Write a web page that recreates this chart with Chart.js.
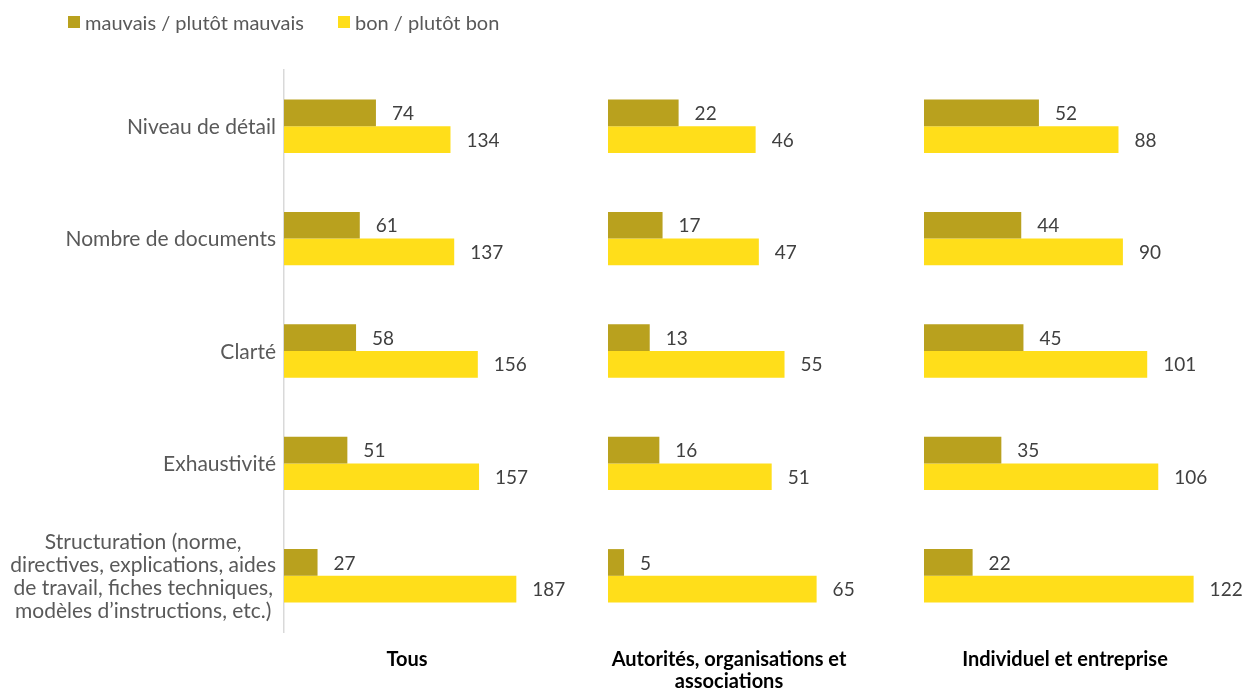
<!DOCTYPE html>
<html><head><meta charset="utf-8">
<script src="https://cdn.jsdelivr.net/npm/chart.js@4.4.0/dist/chart.umd.min.js"></script>
<style>
html,body{margin:0;padding:0;background:#fff;}
#wrap{position:relative;width:1245px;height:693px;}
#legend{position:absolute;left:68px;top:10px;display:flex;font-family:Lato,sans-serif;font-size:20px;color:#595959;line-height:24px;}
.item{display:flex;align-items:center;margin-right:34px;}
.sw{width:12px;height:12px;margin-right:5px;}
canvas{position:absolute;left:0;top:0;}
</style></head><body>
<div id="wrap"><canvas id="c" width="1245" height="693"></canvas><div id="legend"></div></div>
<script>
const categories = [
  ["Niveau de détail"],
  ["Nombre de documents"],
  ["Clarté"],
  ["Exhaustivité"],
  ["Structuration (norme,", "directives, explications, aides", "de travail, fiches techniques,", "modèles d’instructions, etc.)"]
];
const seriesNames = ["mauvais / plutôt mauvais", "bon / plutôt bon"];
const groupTitles = [["Tous", ""], ["Autorités, organisations et", "associations"], ["Individuel et entreprise", ""]];
const badTous = [74, 61, 58, 51, 27];
const goodTous = [134, 137, 156, 157, 187];
const badAutorites = [22, 17, 13, 16, 5];
const goodAutorites = [46, 47, 55, 51, 65];
const badIndividuel = [52, 44, 45, 35, 22];
const goodIndividuel = [88, 90, 101, 106, 122];
const axisMax = [198, 75.4, 127.6];

const colors = ["#B9A11E", "#FFDE1A"];
const FONT = "Lato";

// legend
const lg = document.getElementById('legend');
seriesNames.forEach((n, i) => {
  const d = document.createElement('div'); d.className = 'item';
  const s = document.createElement('div'); s.className = 'sw'; s.style.background = colors[i];
  const t = document.createElement('span'); t.textContent = n;
  d.appendChild(s); d.appendChild(t); lg.appendChild(d);
});

const bads = [badTous, badAutorites, badIndividuel];
const goods = [goodTous, goodAutorites, goodIndividuel];
const datasets = [];
for (let g = 0; g < 3; g++) {
  datasets.push({label: seriesNames[0], data: bads[g], backgroundColor: colors[0], xAxisID: 'x' + g, stack: 'bad'});
  datasets.push({label: seriesNames[1], data: goods[g], backgroundColor: colors[1], xAxisID: 'x' + g, stack: 'good'});
}

const widths = [246, 78, 242, 74, 282, 39];
const scales = {
  y: {
    type: 'category', position: 'left',
    grid: {display: false, drawTicks: false},
    border: {display: true, color: '#D9D9D9', width: 1.5},
    ticks: {display: false}
  }
};
for (let g = 0; g < 3; g++) {
  scales['x' + g] = {
    type: 'linear', position: 'bottom', stack: 'panels', stackWeight: widths[g * 2],
    min: 0, max: axisMax[g], stacked: false,
    grid: {display: false, drawTicks: false},
    border: {display: false},
    ticks: {display: false},
    title: {display: true, text: groupTitles[g], color: '#000', font: {family: FONT, size: 20, weight: 'bold', lineHeight: 1.1}, padding: {top: 17, bottom: 0}}
  };
  scales['gap' + g] = {
    type: 'linear', position: 'bottom', stack: 'panels', stackWeight: widths[g * 2 + 1], display: false
  };
}

const valueLabels = {
  id: 'valueLabels',
  afterDatasetsDraw(chart) {
    const ctx = chart.ctx;
    ctx.save();
    ctx.font = '19px ' + FONT;
    ctx.fillStyle = '#404040';
    ctx.textAlign = 'left';
    ctx.textBaseline = 'middle';
    chart.data.datasets.forEach((ds, i) => {
      chart.getDatasetMeta(i).data.forEach((bar, j) => {
        ctx.fillText(String(ds.data[j]), bar.x + 16, bar.y + 1);
      });
    });
    ctx.restore();
  }
};
const catLabels = {
  id: 'catLabels',
  afterDraw(chart) {
    const ctx = chart.ctx, ys = chart.scales.y;
    ctx.save();
    ctx.font = '21px ' + FONT;
    ctx.fillStyle = '#595959';
    ctx.textAlign = 'center';
    ctx.textBaseline = 'middle';
    const lh = 23;
    const right = chart.chartArea.left - 8;
    categories.forEach((lines, i) => {
      const cy = ys.getPixelForValue(i);
      const w = Math.max(...lines.map(l => ctx.measureText(l).width));
      const cx = right - w / 2;
      lines.forEach((l, k) => {
        ctx.fillText(l, cx, cy - (lines.length - 1) * lh / 2 + k * lh + 1);
      });
    });
    ctx.restore();
  }
};

new Chart(document.getElementById('c'), {
  type: 'bar',
  data: {labels: categories, datasets},
  options: {
    indexAxis: 'y',
    responsive: false,
    animation: false,
    layout: {padding: {top: 70, left: 284, right: 0, bottom: 0}},
    categoryPercentage: 0.475,
    barPercentage: 1,
    plugins: {legend: {display: false}, tooltip: {enabled: false}},
    scales
  },
  plugins: [valueLabels, catLabels]
});
</script>
</body></html>
